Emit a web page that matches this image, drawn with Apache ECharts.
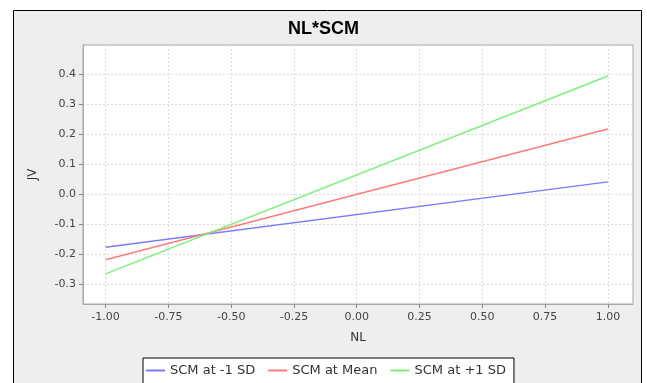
<!DOCTYPE html>
<html>
<head>
<meta charset="utf-8">
<script src="https://cdn.jsdelivr.net/npm/echarts@6/dist/echarts.min.js"></script>
<style>
  html, body { margin: 0; padding: 0; background: #fff; }
  #chart { width: 647px; height: 383px; }
</style>
</head>
<body>
<div id="chart"></div>
<script>
// NL from -1 to +1, JV at three SCM levels
var nlValues = [-1, 1];
var lowSd = [-0.176, 0.041];
var meanSd = [-0.218, 0.217];
var highSd = [-0.265, 0.393];
var seriesNames = ['SCM at -1 SD', 'SCM at Mean', 'SCM at +1 SD'];
var xTicks = [-1, -0.75, -0.5, -0.25, 0, 0.25, 0.5, 0.75, 1];
var yTicks = [-0.3, -0.2, -0.1, 0, 0.1, 0.2, 0.3, 0.4];

var myChart = echarts.init(document.getElementById('chart'));

function pairs(ys) {
    return nlValues.map(function (x, i) { return [x, ys[i]]; });
}

var labelFont = { fontFamily: 'DejaVu Sans', fontSize: 11, color: '#444' };
var gridLine = { show: true, lineStyle: { color: '#dcdcdc', type: [2, 2], width: 1 } };

var option = {
    backgroundColor: '#fff',
    animation: false,
    graphic: [
        {
            type: 'rect', z: -10, silent: true,
            shape: { x: 13.5, y: 10.5, width: 628, height: 380 },
            style: { fill: '#eeeeee', stroke: '#000', lineWidth: 1 }
        }
    ],
    title: {
        text: 'NL*SCM',
        left: 'center',
        top: 15,
        textStyle: { fontFamily: 'Liberation Sans, Arial', fontSize: 18, fontWeight: 'bold', color: '#000' }
    },
    legend: {
        data: seriesNames,
        left: 143,
        top: 358,
        padding: [6, 8, 20, 3],
        itemGap: 13,
        itemWidth: 19,
        itemHeight: 2,
        icon: 'rect',
        backgroundColor: '#fff',
        borderColor: '#000',
        borderWidth: 1,
        borderRadius: 0,
        textStyle: { fontFamily: 'DejaVu Sans', fontSize: 13, color: '#333' }
    },
    grid: {
        left: 83, top: 45, right: 14, bottom: 79,
        show: true, backgroundColor: '#fff', borderColor: '#a8a8a8', borderWidth: 1
    },
    xAxis: {
        type: 'value',
        min: -1.09,
        max: 1.1,
        name: 'NL',
        nameLocation: 'middle',
        nameGap: 28,
        nameTextStyle: { fontFamily: 'DejaVu Sans', fontSize: 12, color: '#333' },
        axisLine: { show: true, onZero: false, lineStyle: { color: '#a8a8a8' } },
        axisTick: { show: true, inside: false, customValues: xTicks, length: 4, lineStyle: { color: '#888' } },
        axisLabel: Object.assign({ customValues: xTicks, margin: 8, formatter: function (v) { return v.toFixed(2); } }, labelFont),
        splitLine: gridLine
    },
    yAxis: {
        type: 'value',
        min: -0.365,
        max: 0.496,
        name: 'JV',
        nameLocation: 'middle',
        nameGap: 44,
        nameTextStyle: { fontFamily: 'DejaVu Sans', fontSize: 12, color: '#333' },
        axisLine: { show: true, onZero: false, lineStyle: { color: '#a8a8a8' } },
        axisTick: { show: true, inside: false, customValues: yTicks, length: 4, lineStyle: { color: '#888' } },
        axisLabel: Object.assign({ customValues: yTicks, margin: 7, formatter: function (v) { return v.toFixed(1); } }, labelFont),
        splitLine: gridLine
    },
    series: [
        { name: seriesNames[0], type: 'line', data: pairs(lowSd), symbol: 'none', color: '#7b7bff', lineStyle: { width: 1.5 } },
        { name: seriesNames[1], type: 'line', data: pairs(meanSd), symbol: 'none', color: '#ff7b7b', lineStyle: { width: 1.5 } },
        { name: seriesNames[2], type: 'line', data: pairs(highSd), symbol: 'none', color: '#7bf07b', lineStyle: { width: 1.5 } }
    ]
};
myChart.setOption(option);
</script>
</body>
</html>
